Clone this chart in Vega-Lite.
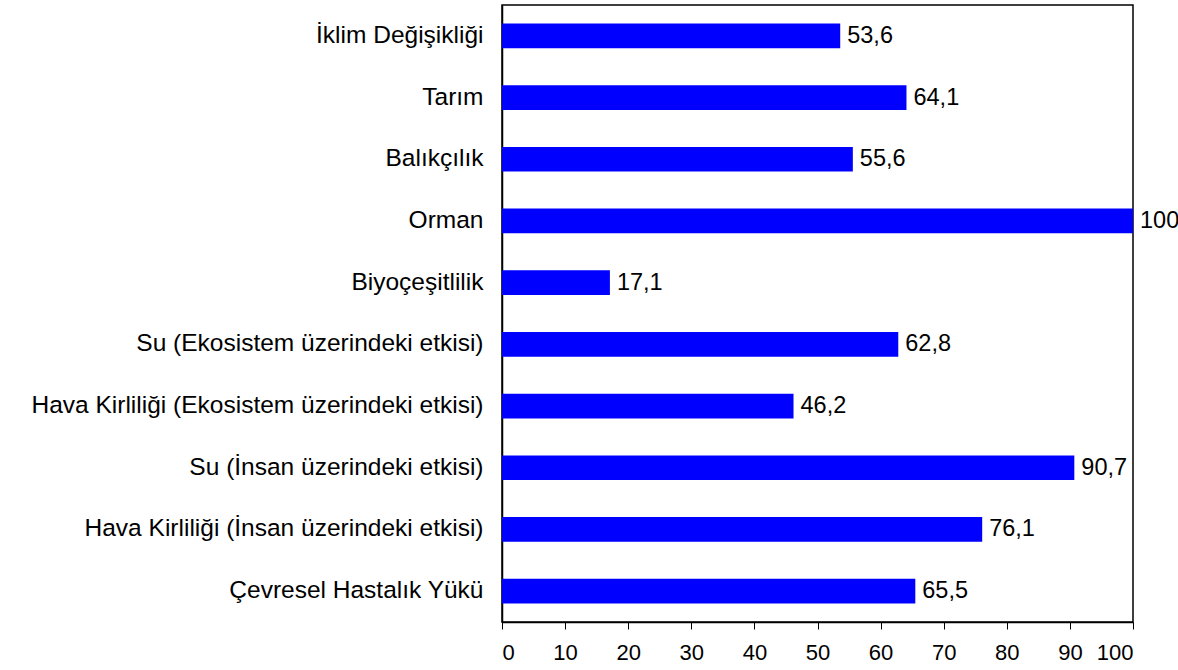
{
  "$schema": "https://vega.github.io/schema/vega-lite/v6.json",
  "width": 631,
  "height": 617,
  "autosize": {"type": "none"},
  "padding": {"left": 502, "top": 5, "right": 45, "bottom": 48},
  "background": "white",
  "config": {
    "font": "Liberation Sans",
    "view": {"stroke": "black", "strokeWidth": 1.5},
    "locale": {"number": {"decimal": ",", "thousands": ".", "grouping": [3], "currency": ["", ""]}}
  },
  "data": {
    "values": [
      {"kategori": "İklim Değişikliği", "deger": 53.6},
      {"kategori": "Tarım", "deger": 64.1},
      {"kategori": "Balıkçılık", "deger": 55.6},
      {"kategori": "Orman", "deger": 100},
      {"kategori": "Biyoçeşitlilik", "deger": 17.1},
      {"kategori": "Su (Ekosistem üzerindeki etkisi)", "deger": 62.8},
      {"kategori": "Hava Kirliliği (Ekosistem üzerindeki etkisi)", "deger": 46.2},
      {"kategori": "Su (İnsan üzerindeki etkisi)", "deger": 90.7},
      {"kategori": "Hava Kirliliği (İnsan üzerindeki etkisi)", "deger": 76.1},
      {"kategori": "Çevresel Hastalık Yükü", "deger": 65.5}
    ]
  },
  "encoding": {
    "y": {
      "field": "kategori",
      "type": "nominal",
      "sort": null,
      "scale": {"paddingInner": 0.6, "paddingOuter": 0.3},
      "axis": {
        "title": null,
        "ticks": false,
        "labelPadding": 19,
        "labelFontSize": 24.5,
        "labelColor": "black",
        "domainColor": "black",
        "domainWidth": 1.5,
        "labelLimit": 600,
        "labelExpr": "(indexof(datum.label, 'klim') >= 0 || indexof(datum.label, 'Tar') === 0) ? datum.label + '\u2002\u2002' : datum.label"
      }
    },
    "x": {
      "field": "deger",
      "type": "quantitative",
      "scale": {"domain": [0, 100], "nice": false},
      "axis": {
        "title": null,
        "values": [0, 10, 20, 30, 40, 50, 60, 70, 80, 90, 100],
        "grid": false,
        "format": "d",
        "tickColor": "black",
        "tickSize": 7,
        "tickWidth": 1,
        "labelPadding": 13,
        "labelFontSize": 22,
        "labelColor": "black",
        "domainColor": "black",
        "domainWidth": 1.5
      }
    }
  },
  "layer": [
    {"mark": {"type": "bar", "color": "#0000FF"}},
    {
      "mark": {"type": "text", "align": "left", "baseline": "middle", "dx": 7, "fontSize": 23.5, "color": "black"},
      "encoding": {"text": {"field": "deger", "type": "quantitative", "format": ".1~f"}}
    }
  ]
}
